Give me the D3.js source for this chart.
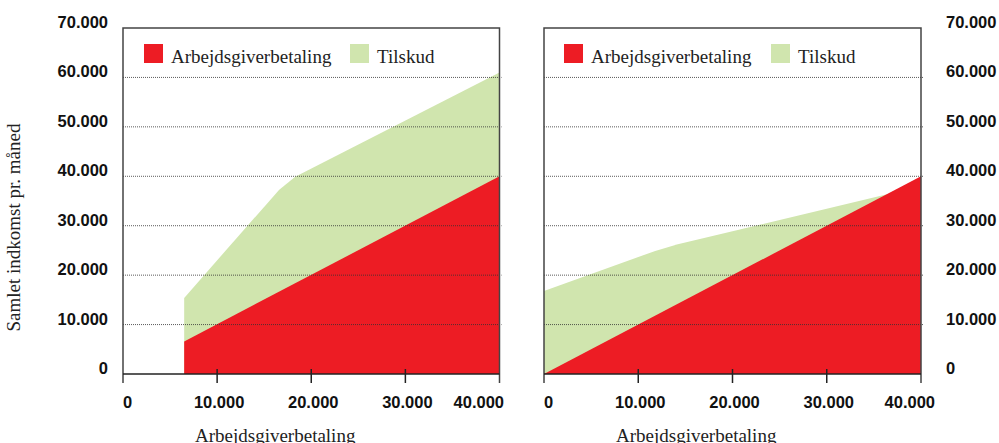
<!DOCTYPE html>
<html>
<head>
<meta charset="utf-8">
<script src="https://cdn.jsdelivr.net/npm/d3@7"></script>
<style>
  body { margin: 0; background: #fff; }
  svg { display: block; }
</style>
</head>
<body>
<div id="chart"></div>
<script>
// Værdier
var xTicks = [0, 10000, 20000, 30000, 40000];
var yTicks = [0, 10000, 20000, 30000, 40000, 50000, 60000, 70000];
var seriesNames = ["Arbejdsgiverbetaling", "Tilskud"];

// Venstre panel
var leftEmployerX = [6500, 40000];
var leftEmployer  = [6600, 40000];
var leftTotalX = [6500, 16600, 18300, 40000];
var leftTotal  = [15400, 37300, 39900, 61000];

// Højre panel
var rightEmployerX = [0, 40000];
var rightEmployer  = [0, 40000];
var rightTotalX = [0, 11800, 14200, 36300, 40000];
var rightTotal  = [16800, 24900, 26250, 36300, 37950];

var width = 999, height = 443;
var red = "#ed1c24", green = "#d0e5ae";
var labelFont = "'Liberation Sans', Arial, sans-serif";
var serifFont = "'Liberation Serif', 'Times New Roman', serif";

var svg = d3.select("#chart").append("svg")
    .attr("width", width)
    .attr("height", height);

var y = d3.scaleLinear().domain([0, 70000]).range([374, 28]);

var panels = [
  { left: 123, right: 499.5, ex: leftEmployerX, ev: leftEmployer, tx: leftTotalX, tv: leftTotal,
    yLabelX: 108, yAnchor: "end", lastDx: 4.5, legendDx: 21 },
  { left: 544, right: 921, ex: rightEmployerX, ev: rightEmployer, tx: rightTotalX, tv: rightTotal,
    yLabelX: 946, yAnchor: "start", lastDx: 14, legendDx: 20 }
];

panels.forEach(function(p) {
  var x = d3.scaleLinear().domain([0, 40000]).range([p.left, p.right]);
  var g = svg.append("g");

  var area = d3.area()
      .x(function(d) { return x(d[0]); })
      .y0(y(0))
      .y1(function(d) { return y(d[1]); });

  // Tilskud (samlet) bagved, arbejdsgiver ovenpå
  g.append("path")
      .datum(d3.zip(p.tx, p.tv))
      .attr("fill", green)
      .attr("d", area);

  g.append("path")
      .datum(d3.zip(p.ex, p.ev))
      .attr("fill", red)
      .attr("d", area);

  // gitterlinjer
  g.selectAll(".grid")
    .data(yTicks.filter(function(d) { return d > 0 && d < 70000; }))
    .enter().append("line")
      .attr("x1", p.left).attr("x2", p.right + 2)
      .attr("y1", function(d) { return y(d); })
      .attr("y2", function(d) { return y(d); })
      .attr("stroke", "#333")
      .attr("stroke-width", 1)
      .attr("stroke-dasharray", "1,1")
      .attr("opacity", 0.8);

  // ramme
  g.append("path")
      .attr("d", "M" + p.left + "," + (y(0) + 9) + "V" + y(70000) + "H" + p.right + "V" + (y(0) + 9))
      .attr("fill", "none")
      .attr("stroke", "#444")
      .attr("stroke-width", 1.5);

  // x-akse
  g.append("line")
      .attr("x1", p.left).attr("x2", p.right)
      .attr("y1", y(0)).attr("y2", y(0))
      .attr("stroke", "#222")
      .attr("stroke-width", 1.5);

  g.selectAll(".tick")
    .data(xTicks.slice(1, -1))
    .enter().append("line")
      .attr("x1", function(d) { return x(d); })
      .attr("x2", function(d) { return x(d); })
      .attr("y1", y(0) - 5).attr("y2", y(0) + 9)
      .attr("stroke", "#222")
      .attr("stroke-width", 1.5);

  g.selectAll(".xlab")
    .data(xTicks)
    .enter().append("text")
      .attr("x", function(d, i) {
        if (i === 0) return x(d);
        if (i === xTicks.length - 1) return x(d) + p.lastDx;
        return x(d) + 2;
      })
      .attr("y", 408)
      .attr("text-anchor", function(d, i) {
        return i === 0 ? "start" : (i === xTicks.length - 1 ? "end" : "middle");
      })
      .attr("font-family", labelFont)
      .attr("font-weight", "bold")
      .attr("font-size", "16.5px")
      .attr("fill", "#111")
      .text(function(d) { return d3.format(",")(d).replace(/,/g, "."); });

  // y-etiketter
  g.selectAll(".ylab")
    .data(yTicks)
    .enter().append("text")
      .attr("x", p.yLabelX)
      .attr("y", function(d) { return y(d); })
      .attr("text-anchor", p.yAnchor)
      .attr("font-family", labelFont)
      .attr("font-weight", "bold")
      .attr("font-size", "16.5px")
      .attr("fill", "#111")
      .text(function(d) { return d3.format(",")(d).replace(/,/g, "."); });

  // x-titel
  g.append("text")
      .attr("x", p.left + 72)
      .attr("y", 442)
      .attr("font-family", serifFont)
      .attr("font-size", "19px")
      .attr("fill", "#222")
      .text("Arbejdsgiverbetaling");

  // legende
  var legendX = [p.left + p.legendDx, p.left + 227];
  var legendColors = [red, green];
  seriesNames.forEach(function(name, i) {
    g.append("rect")
        .attr("x", legendX[i]).attr("y", 44)
        .attr("width", 19).attr("height", 19)
        .attr("fill", legendColors[i]);
    g.append("text")
        .attr("x", legendX[i] + 27)
        .attr("y", 62.5)
        .attr("font-family", serifFont)
        .attr("font-size", "19px")
        .attr("fill", "#222")
        .text(name);
  });
});

// y-titel
svg.append("text")
    .attr("transform", "translate(20,227.5) rotate(-90)")
    .attr("text-anchor", "middle")
    .attr("font-family", serifFont)
    .attr("font-size", "19px")
    .attr("fill", "#222")
    .text("Samlet indkomst pr. måned");
</script>
</body>
</html>
